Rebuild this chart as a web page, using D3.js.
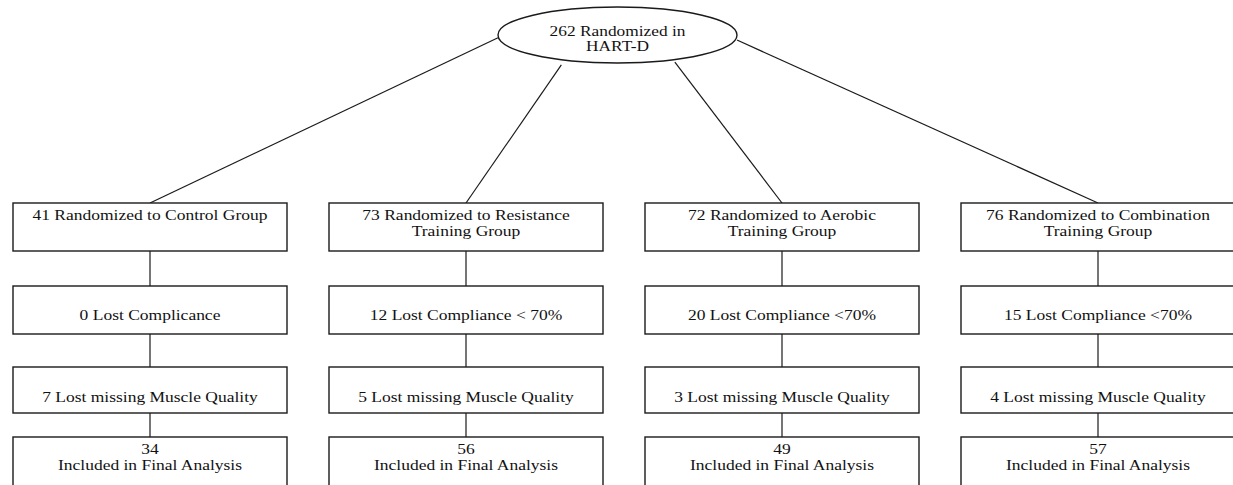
<!DOCTYPE html>
<html>
<head>
    <title>HART-D flow</title>
    <script src="https://d3js.org/d3.v7.min.js"></script>
    <style>
        body { margin: 0; background: #fff; }
        #chart { width: 1233px; height: 485px; overflow: hidden; }
        .box { fill: #fff; stroke: #1a1a1a; stroke-width: 1.4; }
        .link { stroke: #1a1a1a; stroke-width: 1.2; fill: none; }
        .label { font-family: "Liberation Serif", "Times New Roman", serif; fill: #111; }
    </style>
</head>
<body>
    <div id="chart"></div>

    <script>
        // 資料
        const totalRandomized = 262;
        const groups = ["Control", "Resistance", "Aerobic", "Combination"];
        const randomized = [41, 73, 72, 76];
        const lostCompliance = [0, 12, 20, 15];
        const lostMuscle = [7, 5, 3, 4];
        const finalN = [34, 56, 49, 57];

        // 每一層的文字
        const row1Text = [
            [randomized[0] + " Randomized to Control Group"],
            [randomized[1] + " Randomized to Resistance", "Training Group"],
            [randomized[2] + " Randomized to Aerobic", "Training Group"],
            [randomized[3] + " Randomized to Combination", "Training Group"]
        ];
        const row2Text = [
            [lostCompliance[0] + " Lost Complicance"],
            [lostCompliance[1] + " Lost Compliance < 70%"],
            [lostCompliance[2] + " Lost Compliance <70%"],
            [lostCompliance[3] + " Lost Compliance <70%"]
        ];
        const row3Text = lostMuscle.map(d => [d + " Lost missing Muscle Quality"]);
        const row4Text = finalN.map(d => [String(d), "Included in Final Analysis"]);

        const width = 1233, height = 485;
        const svg = d3.select("#chart").append("svg")
            .attr("width", width)
            .attr("height", height);

        // 版面
        const x = d3.scalePoint().domain(groups).range([150, 1098]);
        const boxW = 274;
        const rows = [
            { top: 203, h: 48, baselines: [220, 236], single: 220, text: row1Text },
            { top: 286, h: 48, baselines: [319.5], single: 319.5, text: row2Text },
            { top: 367, h: 46, baselines: [402], single: 402, text: row3Text },
            { top: 437, h: 70, baselines: [454, 470], single: 454, text: row4Text }
        ];
        const stretch = 1.25;

        // 頂部橢圓
        const ell = { cx: 617.5, cy: 35, rx: 119.5, ry: 28 };
        // 連線在橢圓上的起點 (以半軸為單位)
        const anchors = [[-1, 0.1], [-0.47, 1.07], [0.48, 0.97], [1, 0.18]];

        groups.forEach((g, i) => {
            svg.append("line")
                .attr("class", "link")
                .attr("x1", ell.cx + anchors[i][0] * ell.rx)
                .attr("y1", ell.cy + anchors[i][1] * ell.ry)
                .attr("x2", x(g))
                .attr("y2", rows[0].top);
        });

        svg.append("ellipse")
            .attr("class", "box")
            .attr("cx", ell.cx).attr("cy", ell.cy)
            .attr("rx", ell.rx).attr("ry", ell.ry);

        [[totalRandomized + " Randomized in", 35.5], ["HART-D", 51]].forEach(([t, y]) => {
            svg.append("text")
                .attr("class", "label")
                .attr("text-anchor", "middle")
                .attr("font-size", 14)
                .attr("transform", `translate(${ell.cx},${y}) scale(1.24,1)`)
                .text(t);
        });

        // 垂直連線
        groups.forEach(g => {
            for (let r = 0; r < rows.length - 1; r++) {
                svg.append("line")
                    .attr("class", "link")
                    .attr("x1", x(g)).attr("x2", x(g))
                    .attr("y1", rows[r].top + rows[r].h)
                    .attr("y2", rows[r + 1].top);
            }
        });

        // 方框與文字
        rows.forEach(row => {
            groups.forEach((g, i) => {
                svg.append("rect")
                    .attr("class", "box")
                    .attr("x", x(g) - boxW / 2)
                    .attr("y", row.top)
                    .attr("width", boxW)
                    .attr("height", row.h);

                const lines = row.text[i];
                lines.forEach((t, k) => {
                    const y = lines.length === 1 ? row.single : row.baselines[k];
                    svg.append("text")
                        .attr("class", "label")
                        .attr("text-anchor", "middle")
                        .attr("font-size", 14)
                        .attr("transform", `translate(${x(g)},${y}) scale(${stretch},1)`)
                        .text(t);
                });
            });
        });
    </script>
</body>
</html>
